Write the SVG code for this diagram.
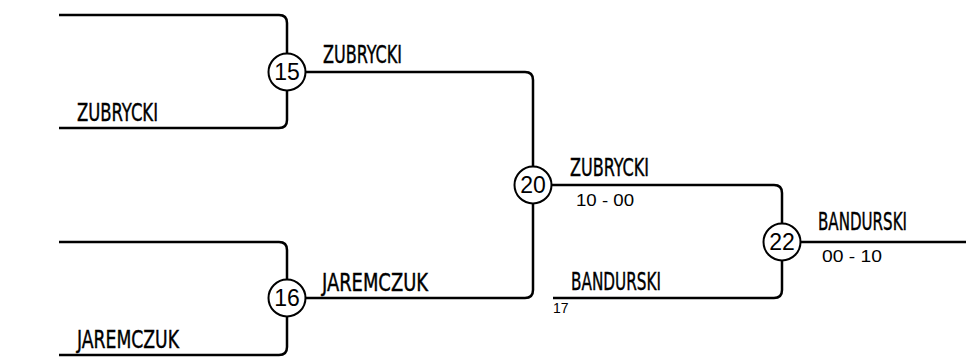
<svg xmlns="http://www.w3.org/2000/svg" width="966" height="358" viewBox="0 0 966 358">
<style>
.ln{fill:none;stroke:#000;stroke-width:2.5}
.nd{fill:#fff;stroke:#000;stroke-width:2}
.num{font-family:"Liberation Sans",Arial,sans-serif;font-size:23px;fill:#000;text-anchor:middle}
.nm{font-family:"DejaVu Sans Condensed","Liberation Sans",sans-serif;font-size:24px;fill:#000;stroke:#000;stroke-width:0.4}
.sc{font-family:"Liberation Sans",Arial,sans-serif;font-size:17px;fill:#000}
.sm{font-family:"Liberation Sans",Arial,sans-serif;font-size:14px;fill:#000}
</style>
<rect width="966" height="358" fill="#fff"/>
<g id="connectors">
<path class="ln" d="M59,15 H279 Q287,15 287,23 V53.5"/>
<path class="ln" d="M59,128 H279 Q287,128 287,120 V90.5"/>
<path class="ln" d="M305.5,72 H525 Q533,72 533,80 V166.5"/>
<path class="ln" d="M59,242 H279 Q287,242 287,250 V279.5"/>
<path class="ln" d="M59,355 H279 Q287,355 287,347 V316.5"/>
<path class="ln" d="M305.5,298 H525 Q533,298 533,290 V203.5"/>
<path class="ln" d="M551.5,185 H774 Q782,185 782,193 V223.5"/>
<path class="ln" d="M553,298 H774 Q782,298 782,290 V260.5"/>
<path class="ln" d="M800.5,242 H966"/>
</g>
<g id="labels">
<text class="nm" x="77" y="121" textLength="81" lengthAdjust="spacingAndGlyphs">ZUBRYCKI</text>
<text class="nm" x="323" y="63" textLength="79" lengthAdjust="spacingAndGlyphs">ZUBRYCKI</text>
<text class="nm" x="77" y="348" textLength="102" lengthAdjust="spacingAndGlyphs">JAREMCZUK</text>
<text class="nm" x="322" y="291" textLength="106" lengthAdjust="spacingAndGlyphs">JAREMCZUK</text>
<text class="nm" x="570" y="176" textLength="79" lengthAdjust="spacingAndGlyphs">ZUBRYCKI</text>
<text class="sc" x="576" y="206" textLength="58" lengthAdjust="spacingAndGlyphs">10 - 00</text>
<text class="nm" x="571" y="290" textLength="90" lengthAdjust="spacingAndGlyphs">BANDURSKI</text>
<text class="sm" x="553" y="313">17</text>
<text class="nm" x="818" y="230" textLength="89" lengthAdjust="spacingAndGlyphs">BANDURSKI</text>
<text class="sc" x="822" y="262" textLength="60" lengthAdjust="spacingAndGlyphs">00 - 10</text>
</g>
<g id="node-15"><circle class="nd" cx="287" cy="72" r="18.5"/><text class="num" x="287" y="80">15</text></g>
<g id="node-16"><circle class="nd" cx="287" cy="298" r="18.5"/><text class="num" x="287" y="306">16</text></g>
<g id="node-20"><circle class="nd" cx="533" cy="185" r="18.5"/><text class="num" x="533" y="193">20</text></g>
<g id="node-22"><circle class="nd" cx="782" cy="242" r="18.5"/><text class="num" x="782" y="250">22</text></g>
</svg>
